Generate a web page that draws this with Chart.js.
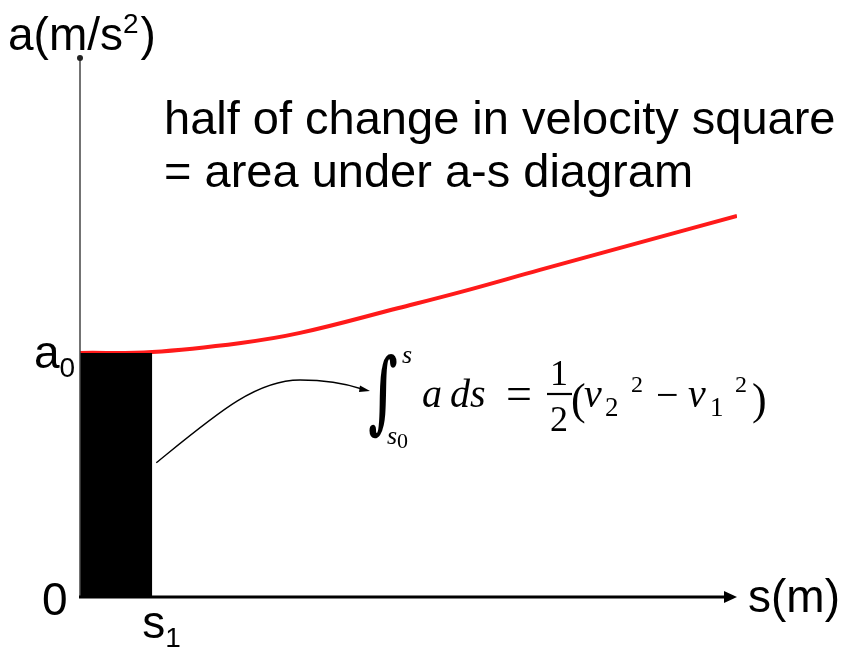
<!DOCTYPE html>
<html>
<head>
<meta charset="utf-8">
<script src="https://cdn.jsdelivr.net/npm/chart.js@4"></script>
<style>
  html, body { margin: 0; padding: 0; background: #fff; }
  #wrap { width: 852px; height: 654px; }
</style>
</head>
<body>
<div id="wrap"><canvas id="as-chart"></canvas></div>
<script>
// a-s curve (red)
const sValues = [0, 1.1, 2.45, 3.35, 4.85, 5.8, 7.0, 8.5, 10];
const aValues = [1.0, 1.004, 1.041, 1.082, 1.184, 1.25, 1.34, 1.451, 1.561];
// black block from s = 0 to s1 at a0
const blockS = [0, 1.1];
const blockA = [1.0, 1.0];
const sMax = 10;
const aMax = 2.2;

const SANS = "'Liberation Sans', Arial, sans-serif";
const SERIF = "'Liberation Serif', 'Times New Roman', serif";

function txt(ctx, s, x, y, font, align) {
  ctx.font = font;
  ctx.textAlign = align || 'left';
  ctx.fillText(s, x, y);
  return ctx.measureText(s).width;
}

const axesPlugin = {
  id: 'axesPlugin',
  afterDraw(chart) {
    const ctx = chart.ctx;
    const xs = chart.scales.x, ys = chart.scales.y;
    const x0 = xs.getPixelForValue(0), y0 = ys.getPixelForValue(0);
    const xEnd = xs.getPixelForValue(sMax);
    const yTop = ys.getPixelForValue(aMax) - 2;
    ctx.save();
    ctx.fillStyle = '#000';
    ctx.textBaseline = 'alphabetic';

    // y axis with a dot at its top
    ctx.strokeStyle = '#444';
    ctx.lineWidth = 1.5;
    ctx.beginPath();
    ctx.moveTo(x0, y0);
    ctx.lineTo(x0, yTop);
    ctx.stroke();
    ctx.fillStyle = '#222';
    ctx.beginPath();
    ctx.arc(x0, yTop, 3, 0, Math.PI * 2);
    ctx.fill();

    // x axis with arrow head
    ctx.strokeStyle = '#000';
    ctx.fillStyle = '#000';
    ctx.lineWidth = 3;
    ctx.beginPath();
    ctx.moveTo(x0 - 1, y0);
    ctx.lineTo(xEnd - 10, y0);
    ctx.stroke();
    ctx.beginPath();
    ctx.moveTo(xEnd, y0);
    ctx.lineTo(xEnd - 13, y0 - 6);
    ctx.lineTo(xEnd - 13, y0 + 6);
    ctx.closePath();
    ctx.fill();

    // axis labels
    let w = txt(ctx, 'a(m/s', 8, 50, '46px ' + SANS);
    let w2 = txt(ctx, '2', 8 + w, 33, '28px ' + SANS);
    txt(ctx, ')', 8 + w + w2 + 2, 50, '46px ' + SANS);
    txt(ctx, 's(m)', 748, 612, '46px ' + SANS);

    // tick-like labels
    const ya0 = ys.getPixelForValue(blockA[0]);
    const xs1 = xs.getPixelForValue(blockS[1]);
    w = txt(ctx, 'a', 34, ya0 + 15, '46px ' + SANS);
    txt(ctx, '0', 34 + w, ya0 + 24, '28px ' + SANS);
    txt(ctx, '0', 42, y0 + 18, '46px ' + SANS);
    w = txt(ctx, 's', xs1 - 10, 638, '46px ' + SANS);
    txt(ctx, '1', xs1 - 10 + w, 647, '28px ' + SANS);

    // heading
    txt(ctx, 'half of change in velocity square', 164, 134, '47px ' + SANS);
    txt(ctx, '= area under a-s diagram', 164, 187, '47px ' + SANS);

    // curved pointer from the block to the formula
    const sx = xs1 + 4, sy = ys.getPixelForValue(0.55);
    ctx.lineWidth = 1.4;
    ctx.beginPath();
    ctx.moveTo(sx, sy);
    ctx.bezierCurveTo(215, 415, 255, 380, 300, 380);
    ctx.quadraticCurveTo(335, 380, 362, 389);
    ctx.stroke();
    ctx.beginPath();
    ctx.moveTo(370, 391);
    ctx.lineTo(360, 385.5);
    ctx.lineTo(359, 392);
    ctx.closePath();
    ctx.fill();

    // integral sign, scaled into its box
    ctx.save();
    ctx.font = "bold 60px 'DejaVu Serif', serif";
    const m = ctx.measureText('\u222B');
    const gw = m.actualBoundingBoxLeft + m.actualBoundingBoxRight;
    const gh = m.actualBoundingBoxAscent + m.actualBoundingBoxDescent;
    const bx = 369, by = 353, bw = 28, bh = 85;
    ctx.translate(bx, by);
    ctx.scale(bw / gw, bh / gh);
    ctx.textAlign = 'left';
    ctx.fillText('\u222B', m.actualBoundingBoxLeft, m.actualBoundingBoxAscent);
    ctx.restore();

    const it = 'italic 40px ' + SERIF;
    const itS = 'italic 26px ' + SERIF;
    const up = '40px ' + SERIF;
    const sub = '27px ' + SERIF;
    const sup = '24px ' + SERIF;
    txt(ctx, 's', 402, 363, itS);
    w = txt(ctx, 's', 387, 444, itS);
    txt(ctx, '0', 387 + w, 448, '22px ' + SERIF);
    txt(ctx, 'a', 422, 407, it);
    txt(ctx, 'ds', 450, 407, it);
    txt(ctx, '=', 506, 409, '46px ' + SERIF);
    txt(ctx, '1', 559, 385, '36px ' + SERIF, 'center');
    ctx.lineWidth = 2.2;
    ctx.beginPath();
    ctx.moveTo(547, 394);
    ctx.lineTo(572, 394);
    ctx.stroke();
    txt(ctx, '2', 559, 431, '36px ' + SERIF, 'center');
    txt(ctx, '(', 571, 414, '44px ' + SERIF);
    txt(ctx, 'v', 584, 407, it);
    txt(ctx, '2', 605, 416, sub);
    txt(ctx, '2', 631, 392, sup);
    txt(ctx, '\u2212', 656, 408, up);
    txt(ctx, 'v', 688, 407, it);
    txt(ctx, '1', 710, 416, sub);
    txt(ctx, '2', 735, 392, sup);
    txt(ctx, ')', 752, 414, '44px ' + SERIF);
    ctx.restore();
  }
};

const curve = sValues.map((s, i) => ({ x: s, y: aValues[i] }));
const block = blockS.map((s, i) => ({ x: s, y: blockA[i] }));

new Chart(document.getElementById('as-chart'), {
  type: 'line',
  data: {
    datasets: [
      {
        data: block,
        borderWidth: 0,
        borderColor: '#000',
        backgroundColor: '#000',
        fill: 'origin',
        pointRadius: 0,
        tension: 0
      },
      {
        data: curve,
        borderColor: '#ff1a1a',
        borderWidth: 4,
        fill: false,
        pointRadius: 0,
        tension: 0.4
      }
    ]
  },
  options: {
    responsive: true,
    maintainAspectRatio: false,
    animation: false,
    events: [],
    layout: { padding: { left: 80, right: 115, top: 60, bottom: 57 } },
    scales: {
      x: { type: 'linear', min: 0, max: sMax, display: false },
      y: { type: 'linear', min: 0, max: aMax, display: false }
    },
    plugins: { legend: { display: false }, tooltip: { enabled: false } }
  },
  plugins: [axesPlugin]
});
</script>
</body>
</html>
